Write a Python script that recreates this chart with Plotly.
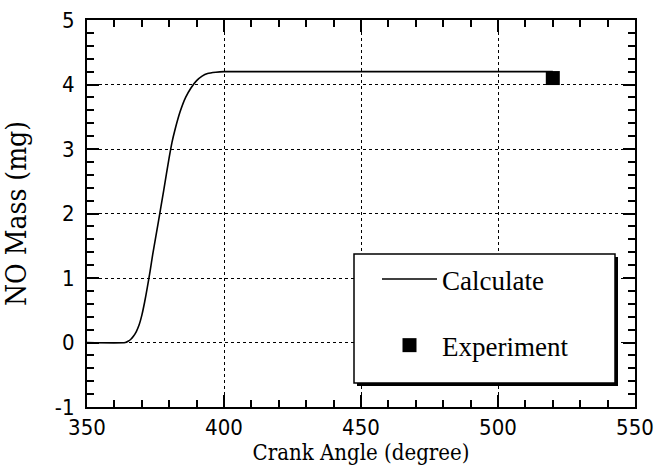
import plotly.graph_objects as go

# Calculated NO mass curve
calc_angle = [350, 364, 365, 366, 367, 368, 369, 370, 371, 372, 373, 374, 376, 378, 380, 381, 382, 384, 386, 388, 390, 392, 394, 397, 400, 520]
calc_mass = [0, 0, 0.02, 0.05, 0.1, 0.17, 0.27, 0.42, 0.62, 0.85, 1.1, 1.37, 1.86, 2.36, 2.87, 3.1, 3.28, 3.58, 3.8, 3.95, 4.06, 4.13, 4.17, 4.19, 4.2, 4.2]

# Experimental point
exp_angle = [520]
exp_mass = [4.1]

x_ticks = [350, 400, 450, 500, 550]
x_labels = ["350", "400", "450", "500", "550"]
y_ticks = [-1, 0, 1, 2, 3, 4, 5]
y_labels = ["-1", "0", "1", "2", "3", "4", "5"]

x_title = "Crank Angle (degree)"
y_title = "NO Mass (mg)"

tick_font = dict(family="DejaVu Sans Condensed, Liberation Sans Narrow, Liberation Sans", size=22, color="black")
title_font = dict(family="DejaVu Serif Condensed, DejaVu Serif, Liberation Serif", size=22, color="black")
ytitle_font = dict(family="DejaVu Serif Condensed, DejaVu Serif, Liberation Serif", size=28, color="black")

fig = go.Figure()
fig.add_trace(go.Scatter(x=calc_angle, y=calc_mass, mode="lines", name="Calculate",
                         line=dict(color="black", width=1.6, shape="spline", smoothing=0.6), legendgroup="a"))
fig.add_trace(go.Scatter(x=exp_angle, y=exp_mass, mode="markers", name="Experiment",
                         marker=dict(symbol="square", size=14, color="black"), legendgroup="b"))

axis_common = dict(showline=True, linecolor="black", linewidth=2, mirror="ticks",
                   ticks="inside", ticklen=12, tickwidth=2, tickcolor="black",
                   showgrid=True, gridcolor="black", gridwidth=1, griddash="3px,3px",
                   zeroline=False, tickfont=tick_font, automargin=False,
                   ticklabeloverflow="allow")

fig.update_xaxes(range=[350, 550], tickvals=x_ticks, ticktext=x_labels,
                 minor=dict(ticks="inside", ticklen=7, tickwidth=2, tickcolor="black", dtick=10, tick0=350, showgrid=False),
                 title=dict(text=x_title, font=title_font, standoff=0),
                 ticklabelstandoff=0,
                 **axis_common)
fig.update_yaxes(range=[-1, 5], tickvals=y_ticks, ticktext=y_labels,
                 minor=dict(ticks="inside", ticklen=7, tickwidth=2, tickcolor="black", dtick=0.2, tick0=0, showgrid=False),
                 ticklabelstandoff=6,
                 **axis_common)

FW = 655; FH = 475
L = 87; R = 635; T = 20; B = 407
W = R - L; H = B - T
def px(xp): return (xp - L) / W
def py(yp): return (B - yp) / H

# y-axis title placed further left than plotly's automatic title position allows
fig.add_annotation(text=y_title, xref="paper", yref="paper", x=px(17), y=py(214),
                   xanchor="center", yanchor="middle", textangle=-90, showarrow=False,
                   font=ytitle_font)

# legend box (white with shadow)
fig.add_shape(type="rect", xref="paper", yref="paper", layer="above",
              x0=px(357), x1=px(618), y0=py(386), y1=py(257),
              fillcolor="black", line=dict(width=0))
fig.add_shape(type="rect", xref="paper", yref="paper", layer="above",
              x0=px(354), x1=px(615), y0=py(383), y1=py(254),
              fillcolor="white", line=dict(color="black", width=1.5))

fig.update_layout(
    width=FW, height=FH,
    margin=dict(l=L, r=FW - R, t=T, b=FH - B),
    plot_bgcolor="white", paper_bgcolor="white",
    showlegend=True,
    legend=dict(x=px(377), y=py(255), xanchor="left", yanchor="top",
                bgcolor="rgba(0,0,0,0)", borderwidth=0,
                font=dict(family="Liberation Serif, Times New Roman, serif", size=27, color="black"),
                tracegroupgap=28, itemwidth=55),
)

fig.write_html("out.html", config={"displayModeBar": False},
               post_script="document.body.style.margin='0';document.body.style.overflow='hidden';")
